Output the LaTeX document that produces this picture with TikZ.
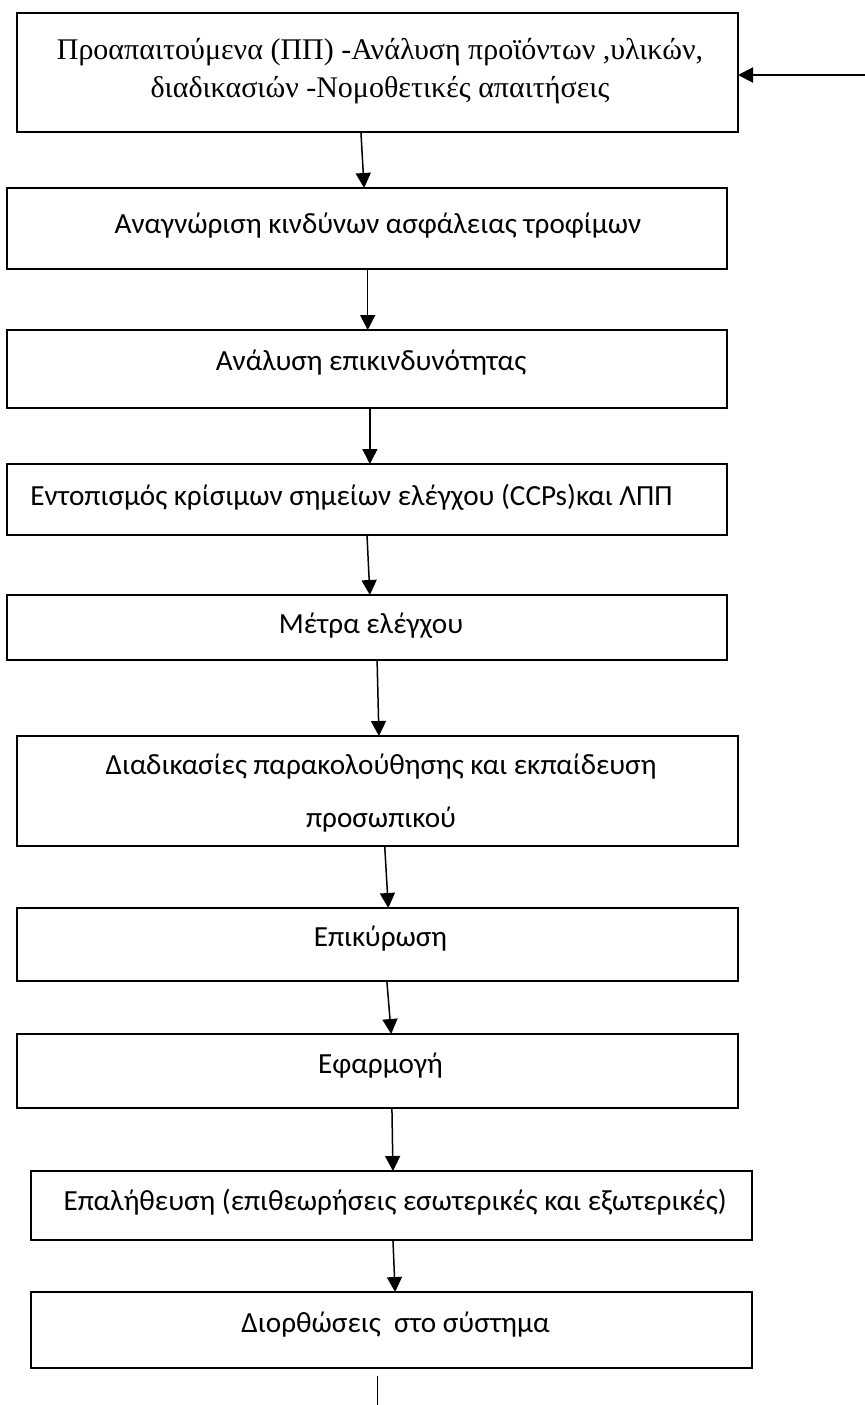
\documentclass[tikz,border=0pt]{standalone}
\usepackage{fontspec}
\setmainfont{Liberation Serif}
\newfontfamily\calibri{Carlito}
\usetikzlibrary{calc,arrows.meta}

\begin{document}
\begin{tikzpicture}[->,>={Triangle[length=7.5pt,width=7.5pt]},x=0.5pt,y=-0.5pt,line width=0.75pt]
    \tikzstyle{box}=[rectangle, draw=black, line width=0.9pt, inner sep=0, outer sep=0]
    \tikzstyle{txt}=[anchor=base, inner sep=0, font=\calibri\fontsize{14.6}{26.5}\selectfont]
    \useasboundingbox (0,0) rectangle (865,1405);
    \foreach \i/\x/\y/\w/\h in {1/377.5/72.5/721/119, 2/367/228.5/720/81, 3/367/369/720/78, 4/367/499.5/720/71, 5/367/627.5/720/65, 6/377.5/791/721/110, 7/377.5/944.5/721/73, 8/377.5/1071/721/74, 9/391.5/1205.5/721/69, 10/391.5/1330/721/76} {
        \node[box, minimum width=0.5pt*\w, minimum height=0.5pt*\h] (b\i) at (\x,\y) {};
    }
    \node[txt, font=\fontsize{15}{19}\selectfont, align=center] (t1) at (380,97) {Προαπαιτούμενα (ΠΠ) -Ανάλυση προϊόντων ,υλικών,\\διαδικασιών -Νομοθετικές απαιτήσεις};
    \node[txt, align=center] (t6) at (381,827) {Διαδικασίες παρακολούθησης και εκπαίδευση\\προσωπικού};
    \foreach \i/\x/\y/\t in {2/378/233/{Αναγνώριση κινδύνων ασφάλειας τροφίμων}, 3/371/370/{Ανάλυση επικινδυνότητας}, 4/351.5/505/{Εντοπισμός κρίσιμων σημείων ελέγχου (CCPs)και ΛΠΠ}, 5/371/633/{Μέτρα ελέγχου}, 7/380.5/946/{Επικύρωση}, 8/380.5/1073/{Εφαρμογή}, 9/395/1210/{Επαλήθευση (επιθεωρήσεις εσωτερικές και εξωτερικές)}, 10/395.5/1332/{Διορθώσεις~ στο σύστημα}} {
        \node[txt] (t\i) at (\x,\y) {\t};
    }
    \foreach \a/\b/\fa/\fb in {1/2/0.477/0.496, 2/3/0.501/0.501, 3/4/0.504/0.504, 4/5/0.5/0.504, 5/6/0.514/0.502, 6/7/0.510/0.515, 7/8/0.513/0.519, 8/9/0.520/0.502, 9/10/0.502/0.505} {
        \path ($(b\a.south west)!\fa!(b\a.south east)$) edge ($(b\b.north west)!\fb!(b\b.north east)$);
    }
    \coordinate (in) at (865,75);
    \path (in) edge[line width=1.1pt] (b1.east |- in);
    \coordinate (e1) at (377,1376);
    \coordinate (e2) at (377,1405);
    \path (e1) edge[-, line width=0.5pt] (e2);
\end{tikzpicture}
\end{document}
